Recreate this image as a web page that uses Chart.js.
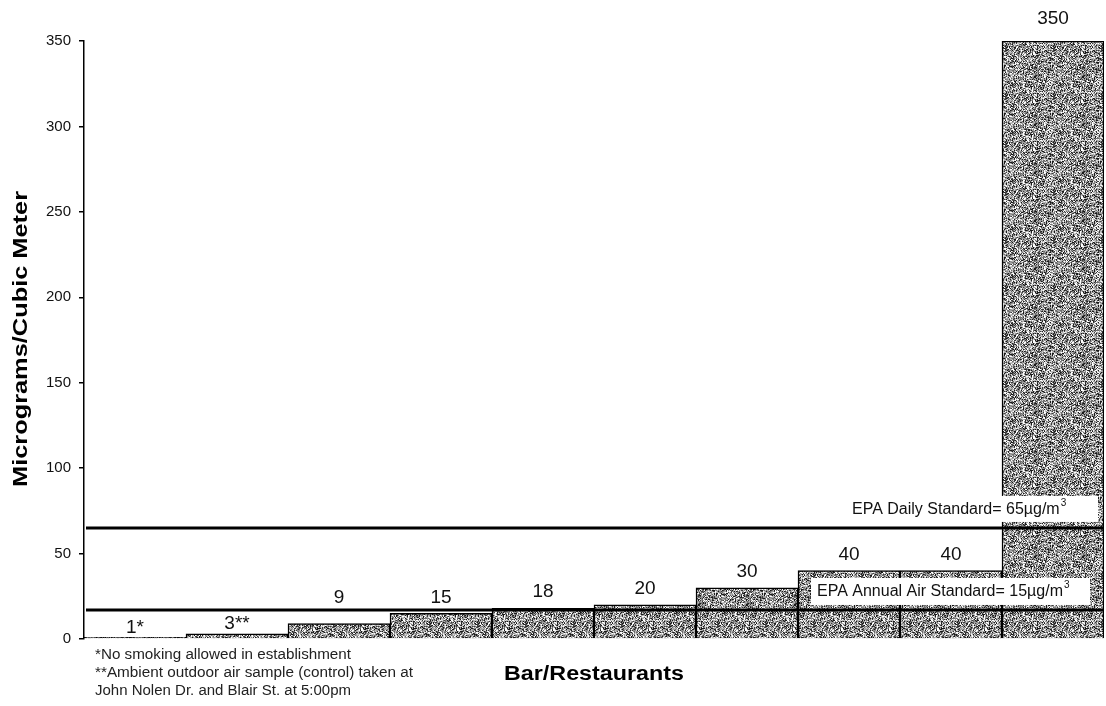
<!DOCTYPE html>
<html>
<head>
<meta charset="utf-8">
<script src="https://cdn.jsdelivr.net/npm/chart.js@4"></script>
<style>
  html, body { margin: 0; padding: 0; background: #fff; }
  #wrap { width: 1106px; height: 706px; position: relative; }
</style>
</head>
<body>
<div id="wrap"><canvas id="chart" width="1106" height="706"></canvas></div>
<script>
// DATA
const categories = ["A", "B", "C", "D", "E", "F", "G", "H", "I", "J"];
const values = [1, 3, 9, 15, 18, 20, 30, 40, 40, 350];
const valueLabels = ["1*", "3**", "9", "15", "18", "20", "30", "40", "40", "350"];
const yTicks = [0, 50, 100, 150, 200, 250, 300, 350];
const dailyStandard = 65;
const annualStandard = 17;
const footnotes = [
  "*No smoking allowed in establishment",
  "**Ambient outdoor air sample (control) taken at",
  "John Nolen Dr. and Blair St. at 5:00pm"
];

const FONT = "'Liberation Sans', Arial, sans-serif";

// speckled gray fill like the scanned bars
function makeTexture() {
  const c = document.createElement("canvas");
  c.width = 48; c.height = 48;
  const g = c.getContext("2d");
  const img = g.createImageData(48, 48);
  const shades = [255, 215, 160, 110, 60, 25, 185, 140];
  for (let y = 0; y < 48; y++) {
    for (let x = 0; x < 48; x++) {
      let h = (x * 374761393 + y * 668265263) | 0;
      h = Math.imul(h ^ (h >>> 13), 1274126177);
      h = (h ^ (h >>> 16)) >>> 0;
      const v = shades[h % shades.length];
      const i = (y * 48 + x) * 4;
      img.data[i] = img.data[i + 1] = img.data[i + 2] = v;
      img.data[i + 3] = 255;
    }
  }
  g.putImageData(img, 0, 0);
  return g.createPattern(c, "repeat");
}

// text stretched to a given width (the scan is a bit wide)
function fitText(ctx, text, x, y, width) {
  const w = ctx.measureText(text).width;
  ctx.save();
  ctx.translate(x, y);
  ctx.scale(width / w, 1);
  ctx.fillText(text, 0, 0);
  ctx.restore();
}

// label box with superscript 3
function drawStdLabel(ctx, text, sup, x, cy, boxL, boxR, boxT, boxB) {
  ctx.fillStyle = "#fff";
  ctx.fillRect(boxL, boxT, boxR - boxL, boxB - boxT);
  ctx.fillStyle = "#111";
  ctx.font = "16px " + FONT;
  ctx.textAlign = "left";
  ctx.textBaseline = "middle";
  ctx.fillText(text, x, cy);
  const w = ctx.measureText(text).width;
  ctx.font = "10px " + FONT;
  ctx.fillText(sup, x + w + 1, cy - 7);
}

const overlay = {
  id: "overlay",
  afterDatasetsDraw(chart) {
    const ctx = chart.ctx;
    const area = chart.chartArea;
    const y = chart.scales.y;
    ctx.save();

    // standard lines
    ctx.strokeStyle = "#000";
    ctx.lineWidth = 3;
    [dailyStandard, annualStandard].forEach(v => {
      const py = y.getPixelForValue(v);
      ctx.beginPath();
      ctx.moveTo(area.left + 2, py);
      ctx.lineTo(area.right, py);
      ctx.stroke();
    });

    // value labels, kept clear of the annual line
    const ay = y.getPixelForValue(annualStandard);
    ctx.fillStyle = "#111";
    ctx.font = "19px " + FONT;
    ctx.textAlign = "center";
    ctx.textBaseline = "middle";
    chart.getDatasetMeta(0).data.forEach((bar, i) => {
      const off = values[i] < 5 ? 10 : (values[i] > 100 ? 22 : 16);
      let ly = bar.y - off;
      if (values[i] >= 5 && ly > ay - 12) ly = ay - 12;
      ctx.fillText(valueLabels[i], bar.x, ly);
    });

    const dy = y.getPixelForValue(dailyStandard);
    drawStdLabel(ctx, "EPA Daily Standard= 65\u00b5g/m", "3", 852, dy - 18, 842, 1098, dy - 32, dy - 6);
    drawStdLabel(ctx, "EPA Annual Air Standard= 15\u00b5g/m", "3", 817, ay - 18, 811, 1090, ay - 32, ay - 5);

    // axis titles
    ctx.font = "bold 20px " + FONT;
    ctx.fillStyle = "#000";
    ctx.textAlign = "left";
    ctx.textBaseline = "middle";
    fitText(ctx, "Bar/Restaurants", 504, 674, 180);
    ctx.save();
    ctx.translate(21, 487);
    ctx.rotate(-Math.PI / 2);
    fitText(ctx, "Micrograms/Cubic Meter", 0, 0, 296);
    ctx.restore();

    // footnotes
    ctx.font = "14px " + FONT;
    ctx.fillStyle = "#222";
    fitText(ctx, footnotes[0], 95, 655, 256);
    fitText(ctx, footnotes[1], 95, 673, 318);
    fitText(ctx, footnotes[2], 95, 691, 256);

    ctx.restore();
  }
};

new Chart(document.getElementById("chart"), {
  type: "bar",
  data: {
    labels: categories,
    datasets: [{
      data: values,
      backgroundColor: makeTexture(),
      borderColor: "#000",
      borderWidth: 1.5,
      categoryPercentage: 1,
      barPercentage: 1
    }]
  },
  options: {
    responsive: false,
    animation: false,
    devicePixelRatio: 1,
    layout: { padding: { left: 0, top: 41, right: 2, bottom: 67 } },
    plugins: { legend: { display: false }, tooltip: { enabled: false } },
    scales: {
      x: { display: false },
      y: {
        min: 0,
        max: 350,
        afterFit: s => { s.width = 84; },
        afterBuildTicks: s => { s.ticks = yTicks.map(v => ({ value: v })); },
        ticks: {
          color: "#111",
          font: { family: FONT, size: 15 },
          padding: 8
        },
        grid: { drawOnChartArea: false, drawTicks: true, tickLength: 5, color: "#000", lineWidth: 1.5 },
        border: { color: "#000", width: 1.5 }
      }
    }
  },
  plugins: [overlay]
});
</script>
</body>
</html>
